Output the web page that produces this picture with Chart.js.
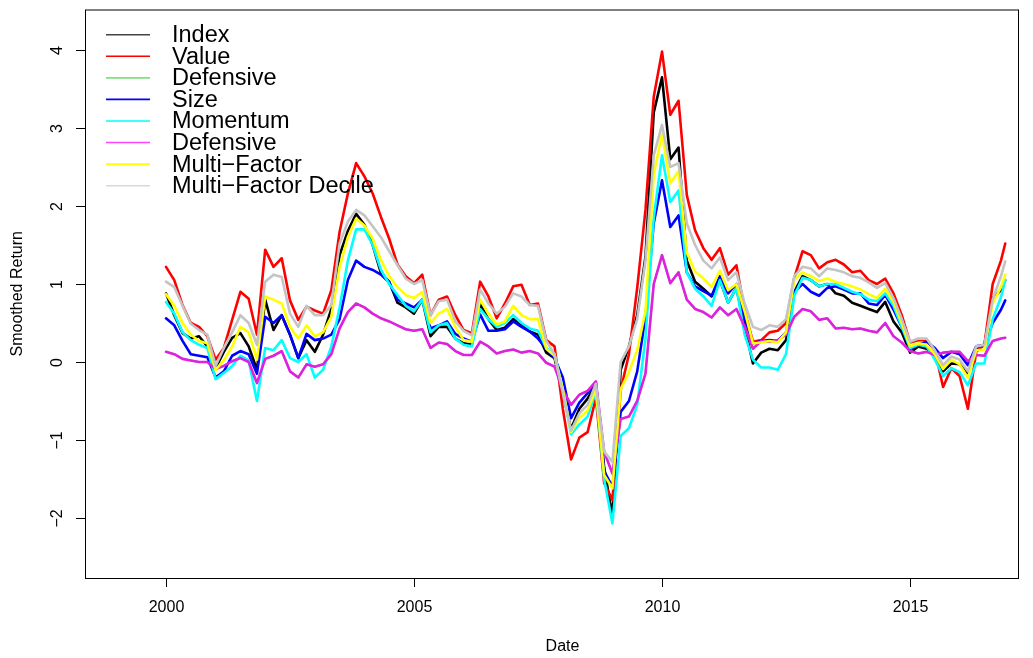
<!DOCTYPE html>
<html lang="en">
<head>
<meta charset="UTF-8" />
<title>Smoothed Return</title>
<script src="https://cdn.jsdelivr.net/npm/chart.js"></script>
<style>
  html, body { margin: 0; padding: 0; background: #ffffff; }
  #wrap { width: 1033px; height: 658px; position: relative; }
</style>
</head>
<body>
<div id="wrap"><canvas id="chart"></canvas></div>
<script>
// dates: every second month, Jan 2000 .. Nov 2016, plus the last month
const dates = [];
for (let k = 0; k < 102; k++) dates.push(2000 + k / 6);
dates.push(2016.92);

const indexRet = [
  0.88, 0.60, 0.37, 0.30, 0.33, 0.20, -0.08, 0.13, 0.31, 0.37,
  0.20, -0.10, 0.80, 0.41, 0.60, 0.35, 0.05, 0.28, 0.13, 0.35,
  0.68, 1.37, 1.68, 1.90, 1.76, 1.50, 1.14, 1.03, 0.76, 0.70,
  0.62, 0.80, 0.33, 0.45, 0.45, 0.30, 0.24, 0.22, 0.74, 0.55,
  0.41, 0.44, 0.55, 0.47, 0.39, 0.35, 0.12, 0.05, -0.40, -0.86,
  -0.60, -0.47, -0.28, -1.35, -1.98, -0.10, 0.20, 0.60, 1.35, 3.20,
  3.65, 2.60, 2.75, 1.30, 1.03, 0.94, 0.84, 1.05, 0.76, 0.95,
  0.45, -0.02, 0.12, 0.17, 0.15, 0.28, 0.90, 1.10, 1.05, 0.97,
  1.00, 0.88, 0.85, 0.76, 0.72, 0.68, 0.64, 0.77, 0.52, 0.38,
  0.12, 0.20, 0.17, 0.10, -0.12, -0.02, -0.03, -0.15, 0.15, 0.22,
  0.82, 0.92, 1.05
];
const value = [
  1.22, 1.05, 0.73, 0.50, 0.45, 0.33, 0.03, 0.18, 0.54, 0.90,
  0.81, 0.35, 1.44, 1.22, 1.33, 0.79, 0.54, 0.71, 0.66, 0.62,
  0.92, 1.67, 2.16, 2.55, 2.38, 2.16, 1.86, 1.58, 1.25, 1.10,
  1.01, 1.12, 0.60, 0.80, 0.84, 0.60, 0.41, 0.37, 1.03, 0.84,
  0.56, 0.75, 0.97, 0.99, 0.73, 0.75, 0.28, 0.20, -0.60, -1.25,
  -0.97, -0.90, -0.46, -1.55, -1.77, -0.36, 0.10, 0.95, 1.95, 3.40,
  3.98, 3.17, 3.35, 2.14, 1.69, 1.46, 1.31, 1.46, 1.12, 1.24,
  0.65, 0.26, 0.28, 0.38, 0.40, 0.50, 1.08, 1.42, 1.37, 1.20,
  1.28, 1.31, 1.25, 1.15, 1.17, 1.05, 1.00, 1.07, 0.88, 0.60,
  0.25, 0.28, 0.28, 0.15, -0.32, -0.08, -0.18, -0.60, 0.13, 0.22,
  1.00, 1.30, 1.52
];
const size = [
  0.56, 0.47, 0.27, 0.10, 0.08, 0.06, -0.20, -0.12, 0.08, 0.14,
  0.10, -0.15, 0.58, 0.50, 0.60, 0.35, 0.05, 0.36, 0.28, 0.30,
  0.35, 0.55, 1.05, 1.30, 1.22, 1.18, 1.12, 1.02, 0.80, 0.75,
  0.70, 0.80, 0.43, 0.47, 0.52, 0.36, 0.30, 0.26, 0.61, 0.40,
  0.40, 0.42, 0.52, 0.45, 0.39, 0.30, 0.17, 0.05, -0.20, -0.72,
  -0.52, -0.40, -0.26, -1.40, -1.60, -0.64, -0.50, -0.12, 0.58, 1.78,
  2.33, 1.73, 1.88, 1.15, 0.97, 0.91, 0.85, 1.10, 0.88, 1.00,
  0.55, 0.24, 0.27, 0.28, 0.27, 0.38, 0.90, 1.00, 0.90, 0.85,
  0.95, 0.97, 0.93, 0.88, 0.88, 0.75, 0.73, 0.86, 0.67, 0.45,
  0.17, 0.22, 0.26, 0.18, 0.05, 0.13, 0.10, -0.04, 0.20, 0.22,
  0.50, 0.67, 0.79
];
const momentum = [
  0.77, 0.62, 0.38, 0.28, 0.22, 0.18, -0.22, -0.14, -0.05, 0.08,
  0.02, -0.50, 0.18, 0.15, 0.28, 0.05, 0.00, 0.10, -0.20, -0.10,
  0.20, 0.70, 1.30, 1.70, 1.70, 1.50, 1.18, 1.00, 0.86, 0.72,
  0.65, 0.80, 0.38, 0.47, 0.50, 0.30, 0.22, 0.20, 0.68, 0.55,
  0.45, 0.50, 0.60, 0.50, 0.43, 0.40, 0.18, 0.10, -0.35, -0.93,
  -0.80, -0.70, -0.38, -1.50, -2.07, -0.95, -0.85, -0.55, 0.30, 1.85,
  2.65, 2.05, 2.20, 1.15, 0.94, 0.84, 0.72, 1.05, 0.76, 0.95,
  0.35, 0.03, -0.07, -0.07, -0.10, 0.10, 0.85, 1.08, 1.05, 0.97,
  1.00, 1.00, 0.95, 0.90, 0.87, 0.80, 0.78, 0.88, 0.72, 0.45,
  0.18, 0.22, 0.20, 0.03, -0.18, -0.08, -0.13, -0.30, -0.02, -0.02,
  0.55, 0.83, 1.05
];
const defensive = [
  0.13, 0.10, 0.04, 0.02, 0.00, 0.00, -0.09, -0.05, 0.01, 0.05,
  0.00, -0.27, 0.04, 0.08, 0.14, -0.12, -0.20, -0.03, -0.06, -0.03,
  0.10, 0.43, 0.64, 0.75, 0.70, 0.62, 0.56, 0.52, 0.47, 0.42,
  0.40, 0.42, 0.18, 0.25, 0.23, 0.14, 0.09, 0.09, 0.26, 0.20,
  0.11, 0.14, 0.16, 0.12, 0.14, 0.11, -0.01, -0.06, -0.36, -0.55,
  -0.42, -0.37, -0.25, -1.15, -1.43, -0.73, -0.70, -0.50, -0.15, 1.00,
  1.37, 1.01, 1.15, 0.80, 0.68, 0.64, 0.57, 0.70, 0.60, 0.68,
  0.45, 0.17, 0.27, 0.26, 0.28, 0.35, 0.58, 0.68, 0.65, 0.54,
  0.56, 0.43, 0.44, 0.42, 0.43, 0.40, 0.38, 0.50, 0.33, 0.25,
  0.14, 0.11, 0.13, 0.09, 0.12, 0.13, 0.13, 0.01, 0.09, 0.08,
  0.27, 0.30, 0.31
];
const multiFactor = [
  0.87, 0.72, 0.50, 0.35, 0.27, 0.24, -0.10, 0.02, 0.20, 0.45,
  0.38, 0.03, 0.84, 0.80, 0.75, 0.45, 0.30, 0.47, 0.33, 0.38,
  0.58, 1.22, 1.60, 1.84, 1.75, 1.58, 1.31, 1.10, 0.96, 0.86,
  0.82, 0.90, 0.50, 0.62, 0.68, 0.45, 0.28, 0.26, 0.80, 0.62,
  0.48, 0.52, 0.72, 0.60, 0.55, 0.55, 0.17, 0.08, -0.35, -0.90,
  -0.72, -0.62, -0.35, -1.45, -1.62, -0.35, -0.13, 0.15, 0.65, 2.40,
  2.93, 2.29, 2.45, 1.40, 1.16, 1.07, 0.96, 1.17, 0.92, 1.00,
  0.65, 0.24, 0.25, 0.27, 0.25, 0.38, 1.05, 1.15, 1.10, 1.04,
  1.07, 1.03, 1.00, 0.97, 0.93, 0.87, 0.82, 0.94, 0.77, 0.50,
  0.20, 0.24, 0.22, 0.10, -0.09, 0.03, -0.03, -0.20, 0.15, 0.16,
  0.75, 0.96, 1.12
];
const multiFactorDecile = [
  1.03, 0.96, 0.72, 0.49, 0.41, 0.35, -0.05, 0.18, 0.38, 0.60,
  0.50, 0.22, 1.03, 1.12, 1.09, 0.62, 0.45, 0.72, 0.60, 0.60,
  0.73, 1.52, 1.80, 1.95, 1.88, 1.74, 1.60, 1.42, 1.24, 1.07,
  1.00, 1.05, 0.60, 0.78, 0.80, 0.52, 0.40, 0.34, 0.93, 0.75,
  0.62, 0.71, 0.88, 0.84, 0.73, 0.72, 0.27, 0.10, -0.40, -0.88,
  -0.66, -0.55, -0.28, -1.15, -1.28, 0.00, 0.20, 0.55, 1.30, 2.65,
  3.04, 2.50, 2.55, 1.78, 1.50, 1.30, 1.20, 1.34, 1.05, 1.15,
  0.75, 0.45, 0.41, 0.47, 0.45, 0.55, 1.10, 1.22, 1.20, 1.10,
  1.20, 1.18, 1.15, 1.10, 1.08, 1.02, 0.95, 1.01, 0.82, 0.55,
  0.26, 0.30, 0.30, 0.15, -0.04, 0.07, 0.03, -0.12, 0.20, 0.22,
  0.80, 1.10, 1.29
];

const seriesNames = ["Index", "Value", "Defensive", "Size", "Momentum", "Defensive", "Multi\u2212Factor", "Multi\u2212Factor Decile"];
const seriesData = [indexRet, value, defensive, size, momentum, defensive, multiFactor, multiFactorDecile];
const seriesColors = ["#000000", "#ff0000", "#7ee07e", "#0000ff", "#00ffff", "#e020e0", "#ffff00", "#c4c4c4"];
const legendColors = ["#444444", "#ff0000", "#7ee07e", "#0000ff", "#00ffff", "#ff44ff", "#ffff00", "#d8d8d8"];

const xTicks = [2000, 2005, 2010, 2015];
const yTicks = [-2, -1, 0, 1, 2, 3, 4];

const FONT = "'Liberation Sans', Arial, Helvetica, sans-serif";

// R-like box, ticks, axis titles and legend
const rDecorations = {
  id: "rDecorations",
  afterDatasetsDraw(chart) {
    const { ctx, chartArea: a, scales } = chart;
    const x = scales.x, y = scales.y;
    ctx.save();
    ctx.strokeStyle = "#000";
    ctx.lineWidth = 1;
    ctx.strokeRect(a.left + 0.5, a.top + 0.5, a.right - a.left, a.bottom - a.top);

    ctx.fillStyle = "#000";
    ctx.font = "16px " + FONT;
    ctx.textAlign = "center";
    ctx.textBaseline = "middle";

    xTicks.forEach(t => {
      const px = Math.round(x.getPixelForValue(t)) + 0.5;
      ctx.beginPath();
      ctx.moveTo(px, a.bottom);
      ctx.lineTo(px, a.bottom + 9);
      ctx.stroke();
      ctx.fillText(String(t), px, 607.5);
    });

    yTicks.forEach(t => {
      const py = Math.round(y.getPixelForValue(t)) + 0.5;
      ctx.beginPath();
      ctx.moveTo(a.left - 9, py);
      ctx.lineTo(a.left, py);
      ctx.stroke();
      ctx.save();
      ctx.translate(58, py);
      ctx.rotate(-Math.PI / 2);
      ctx.fillText(String(t).replace("-", "\u2212"), 0, 0);
      ctx.restore();
    });

    ctx.fillText("Date", 562.5, 646.5);
    ctx.save();
    ctx.translate(18, (a.top + a.bottom) / 2);
    ctx.rotate(-Math.PI / 2);
    ctx.fillText("Smoothed Return", 0, 0);
    ctx.restore();

    // legend, no frame
    ctx.font = "23.5px " + FONT;
    ctx.textAlign = "left";
    chart.data.datasets.forEach((ds, i) => {
      const ly = 34.7 + i * 21.57;
      ctx.strokeStyle = legendColors[i];
      ctx.lineWidth = 1.6;
      ctx.beginPath();
      ctx.moveTo(106, ly);
      ctx.lineTo(150, ly);
      ctx.stroke();
      ctx.fillStyle = "#000";
      ctx.fillText(ds.label, 172, ly + 1);
    });
    ctx.restore();
  }
};

const datasets = seriesNames.map((name, i) => ({
  label: name,
  data: seriesData[i].map((v, k) => ({ x: dates[k], y: v })),
  borderColor: seriesColors[i],
  backgroundColor: seriesColors[i],
  borderWidth: i === 2 ? 2 : 2.6,
  pointRadius: 0,
  tension: 0,
  fill: false,
  borderJoinStyle: "round",
  borderCapStyle: "round",
  order: seriesNames.length - i
}));

new Chart(document.getElementById("chart"), {
  type: "line",
  data: { datasets },
  options: {
    responsive: true,
    maintainAspectRatio: false,
    animation: false,
    events: [],
    layout: { padding: { left: 85, right: 15, top: 9.5, bottom: 80 } },
    plugins: { legend: { display: false }, tooltip: { enabled: false } },
    scales: {
      x: { type: "linear", display: false, min: 1998.367, max: 2017.177 },
      y: { type: "linear", display: false, min: -2.77, max: 4.52 }
    }
  },
  plugins: [rDecorations]
});
</script>
</body>
</html>
